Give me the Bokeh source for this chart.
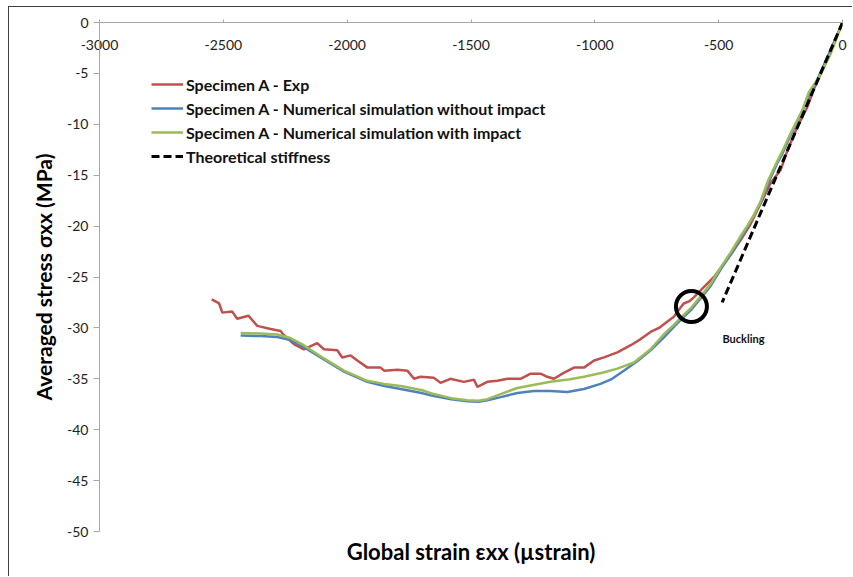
from bokeh.plotting import figure
from bokeh.models import Range1d, FixedTicker, Label, Legend, LegendItem, LinearAxis
from bokeh.embed import file_html
from bokeh.resources import INLINE

# ---------------- data ----------------
exp_strain = [-2547, -2517, -2504, -2464, -2444, -2399, -2363, -2309, -2269, -2256,
              -2215, -2175, -2121, -2094, -2040, -2020, -1986, -1959, -1918, -1865,
              -1851, -1797, -1757, -1730, -1704, -1650, -1623, -1583, -1529, -1488,
              -1474, -1434, -1393, -1353, -1300, -1259, -1219, -1192, -1165, -1124,
              -1084, -1044, -1003, -963, -909, -855, -815, -775, -741, -708,
              -681, -660, -641, -620, -600, -560, -519, -479, -445, -412,
              -371, -331, -291, -250, -223, -183, -142, -115, -61, 0]
exp_stress = [-27.2, -27.6, -28.5, -28.4, -29.1, -28.8, -29.8, -30.1, -30.3, -30.7,
              -31.6, -32.1, -31.5, -32.1, -32.2, -32.9, -32.7, -33.2, -33.9, -33.9,
              -34.2, -34.1, -34.2, -35.0, -34.8, -34.9, -35.4, -35.0, -35.3, -35.1,
              -35.8, -35.3, -35.2, -35.0, -35.0, -34.5, -34.5, -34.8, -35.0, -34.4,
              -33.9, -33.9, -33.2, -32.9, -32.4, -31.7, -31.1, -30.4, -30.0, -29.4,
              -28.9, -28.2, -27.6, -27.4, -27.0, -26.0, -25.0, -23.7, -22.6, -21.4,
              -19.8, -17.8, -15.8, -14.5, -12.6, -10.3, -8.3, -6.5, -3.6, 0]

sim_no_impact_strain = [-2430, -2350, -2282, -2229, -2175, -2094, -2013, -1919, -1850, -1784,
                        -1700, -1650, -1580, -1515, -1470, -1434, -1380, -1313, -1246, -1180,
                        -1111, -1044, -977, -930, -883, -830, -775, -720, -681, -640,
                        -610, -573, -533, -493, -452, -412, -385, -357, -331, -300,
                        -265, -243, -210, -180, -140, -100, -50, 0]
sim_no_impact_stress = [-30.75, -30.8, -30.9, -31.2, -31.9, -33.1, -34.3, -35.3, -35.7, -36.0,
                        -36.4, -36.7, -37.0, -37.2, -37.25, -37.1, -36.8, -36.4, -36.2, -36.2,
                        -36.3, -36.0, -35.5, -35.0, -34.2, -33.3, -32.2, -30.9, -29.9, -28.9,
                        -28.2, -27.1, -25.9, -24.3, -22.8, -21.2, -20.1, -18.9, -17.7, -15.8,
                        -13.9, -12.9, -11.1, -9.6, -7.5, -5.5, -2.8, 0]

sim_impact_strain = [-2430, -2350, -2282, -2229, -2175, -2094, -2013, -1919, -1850, -1784,
                     -1700, -1650, -1580, -1515, -1470, -1434, -1380, -1313, -1250, -1179,
                     -1100, -1044, -970, -909, -842, -775, -720, -681, -640, -610,
                     -573, -533, -493, -452, -412, -385, -357, -331, -300, -263,
                     -236, -210, -183, -162, -136, -95, -48, 0]
sim_impact_stress = [-30.5, -30.55, -30.65, -31.0, -31.7, -33.0, -34.2, -35.2, -35.5, -35.7,
                     -36.1, -36.5, -36.9, -37.1, -37.15, -37.0, -36.5, -35.9, -35.6, -35.3,
                     -35.05, -34.8, -34.4, -34.0, -33.4, -32.1, -30.6, -29.7, -28.7, -28.0,
                     -26.9, -25.7, -24.1, -22.6, -21.0, -20.0, -18.9, -17.6, -15.5, -13.6,
                     -12.3, -10.9, -9.6, -8.6, -6.85, -5.4, -3.1, 0]

theory_strain = [0, -486]
theory_stress = [0, -27.5]

x_ticks = [-3000, -2500, -2000, -1500, -1000, -500, 0]
y_ticks = [0, -5, -10, -15, -20, -25, -30, -35, -40, -45, -50]

series_labels = ["Specimen A - Exp",
                 "Specimen A - Numerical simulation without impact",
                 "Specimen A - Numerical simulation with impact",
                 "Theoretical stiffness"]

x_title = "Global strain εxx (µstrain)"
y_title = "Averaged stress σxx (MPa)"

# annotation (buckling point)
buckling_strain = -610
buckling_stress = -27.9

FONT = "Lato"

p = figure(width=844, height=570,
           x_range=Range1d(-3000, 0), y_range=Range1d(-50, 0),
           x_axis_location="above",
           output_backend="svg", toolbar_location=None,
           min_border_left=90, min_border_right=11, min_border_top=15, min_border_bottom=46,
           styles={"margin-left": "8px", "margin-top": "6px",
                   "border-left": "1px solid #404040", "border-top": "1px solid #404040"})

p.xgrid.visible = False
p.ygrid.visible = False
p.outline_line_color = None
p.background_fill_color = "white"
p.border_fill_color = "white"

xa = p.xaxis[0]
xa.ticker = FixedTicker(ticks=x_ticks)
xa.major_label_overrides = {t: str(t) for t in x_ticks}
xa.major_tick_out = 3
xa.major_tick_in = 0
xa.minor_tick_line_color = None
xa.axis_line_color = "#a6a6a6"
xa.major_tick_line_color = "#a6a6a6"
xa.major_label_standoff = -30
xa.major_label_text_font = FONT
xa.major_label_text_font_size = "14px"
xa.major_label_text_color = "#222222"

ya = p.yaxis[0]
ya.ticker = FixedTicker(ticks=y_ticks)
ya.major_label_overrides = {t: str(t) for t in y_ticks}
ya.major_tick_out = 6
ya.major_tick_in = 0
ya.minor_tick_line_color = None
ya.axis_line_color = "#a6a6a6"
ya.major_tick_line_color = "#a6a6a6"
ya.major_label_standoff = 5
ya.major_label_text_font = FONT
ya.major_label_text_font_size = "14px"
ya.major_label_text_color = "#222222"
ya.axis_label = y_title
ya.axis_label_text_font = FONT
ya.axis_label_text_font_style = "bold"
ya.axis_label_text_font_size = "21px"
ya.axis_label_text_color = "black"
ya.axis_label_standoff = 8

xb = LinearAxis(ticker=FixedTicker(ticks=[]), axis_line_color=None,
                major_tick_line_color=None, minor_tick_line_color=None,
                axis_label=x_title, axis_label_text_font=FONT,
                axis_label_text_font_style="bold", axis_label_text_font_size="22px",
                axis_label_text_color="black", axis_label_standoff=6)
p.add_layout(xb, "below")

r_exp = p.line(exp_strain, exp_stress, line_color="#C0504D", line_width=2.5)
r_no = p.line(sim_no_impact_strain, sim_no_impact_stress, line_color="#4F81BD", line_width=2.5)
r_imp = p.line(sim_impact_strain, sim_impact_stress, line_color="#9BBB59", line_width=2.5)
r_th = p.line(theory_strain, theory_stress, line_color="black", line_width=3, line_dash="8 4")

p.scatter([buckling_strain], [buckling_stress], marker="circle", size=31,
          fill_color=None, line_color="black", line_width=4)

p.add_layout(Label(x=-485, y=-31.0, text="Buckling", text_font=FONT,
                   text_font_style="bold", text_font_size="11px",
                   text_align="left", text_baseline="middle", text_color="#111111"))

legend = Legend(items=[LegendItem(label=series_labels[0], renderers=[r_exp]),
                       LegendItem(label=series_labels[1], renderers=[r_no]),
                       LegendItem(label=series_labels[2], renderers=[r_imp]),
                       LegendItem(label=series_labels[3], renderers=[r_th])],
                location="top_left", margin=52, padding=10, spacing=4,
                glyph_width=32, glyph_height=20, label_height=20, label_standoff=3,
                label_text_font=FONT, label_text_font_style="bold",
                label_text_font_size="16px", label_text_color="#111111",
                border_line_color=None, background_fill_alpha=0)
p.add_layout(legend)

open("out.html", "w").write(file_html(p, INLINE))
